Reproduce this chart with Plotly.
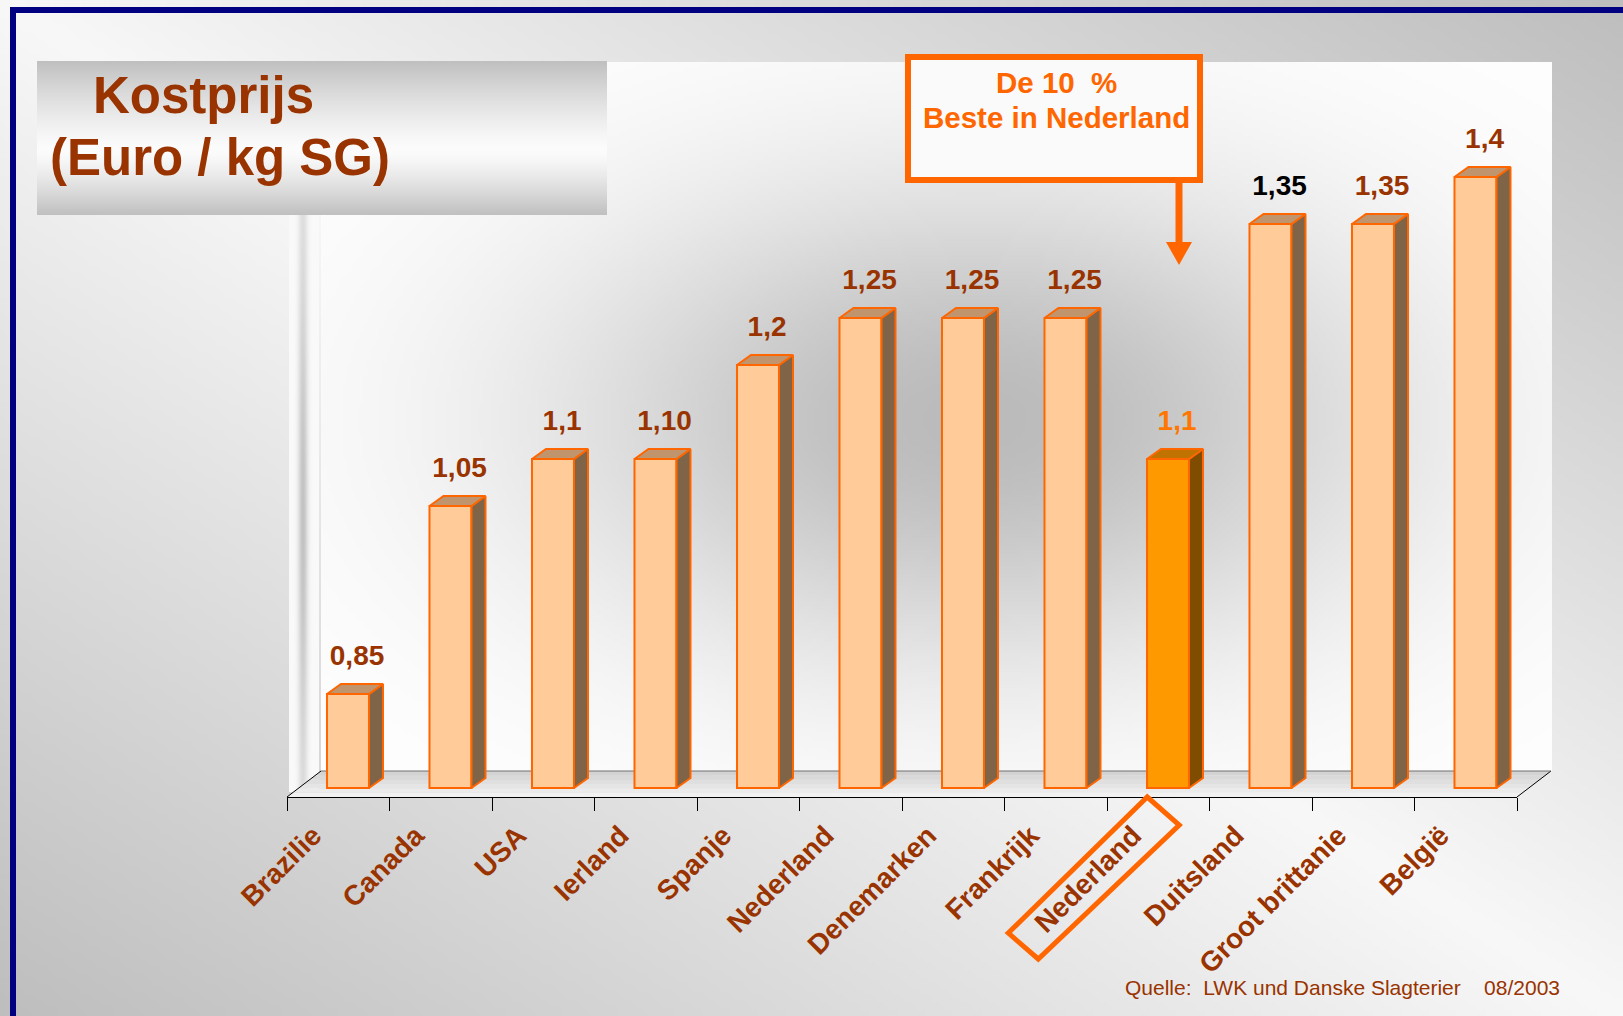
import base64, struct, zlib
import numpy as np
import plotly.graph_objects as go

# ---------------- data ----------------
categories = ["Brazilie", "Canada", "USA", "Ierland", "Spanje", "Nederland",
              "Denemarken", "Frankrijk", "Nederland", "Duitsland",
              "Groot brittanie", "België"]
values = [0.85, 1.05, 1.1, 1.1, 1.2, 1.25, 1.25, 1.25, 1.1, 1.35, 1.35, 1.4]
value_labels = ["0,85", "1,05", "1,1", "1,10", "1,2", "1,25", "1,25", "1,25",
                "1,1", "1,35", "1,35", "1,4"]
highlight_index = 8
y_base = 0.75

# ---------------- geometry (pixels) ----------------
W, H = 1623, 1016
PL, PR, PT, PB = 287, 1517, 62, 797           # plot area in pixels
PW, PH = PR - PL, PB - PT
n = len(categories)
px_per_cat = PW / n
px_per_unit = 940.0
y_min = y_base - 9 / px_per_unit
y_max = y_min + PH / px_per_unit


def fx(px):
    return (px - PL) / PW


def fy(py):
    return (PB - py) / PH


def png_uri(arr):
    arr = np.clip(arr, 0, 255).astype(np.uint8)
    h, w, _ = arr.shape
    raw = b"".join(b"\x00" + arr[r].tobytes() for r in range(h))

    def chunk(t, d):
        c = struct.pack(">I", len(d)) + t + d
        return c + struct.pack(">I", zlib.crc32(t + d) & 0xFFFFFFFF)

    png = (b"\x89PNG\r\n\x1a\n"
           + chunk(b"IHDR", struct.pack(">IIBBBBB", w, h, 8, 2, 0, 0, 0))
           + chunk(b"IDAT", zlib.compress(raw, 9))
           + chunk(b"IEND", b""))
    return "data:image/png;base64," + base64.b64encode(png).decode()


def gray(v):
    return np.repeat(v[:, :, None], 3, axis=2)


# page background: light top-left / bottom-right, darker other corners
bw, bh = 406, 254
u = np.linspace(0, 1, bw)[None, :]
w_ = np.linspace(0, 1, bh)[:, None]
bg = 248 - 58 * np.abs(u - w_)
bg_img = png_uri(gray(bg))

# back wall: white with grey radial shading
x0w, x1w, y0w, y1w = 321, 1552, 62, 771
ww, wh = 308, 178
xx = np.linspace(x0w, x1w, ww)[None, :]
yy = np.linspace(y0w, y1w, wh)[:, None]
wall = 255 - 68 * np.exp(-((xx - 975) / 420) ** 2 - ((yy - 420) / 240) ** 2)
wall_img = png_uri(gray(wall))

# left wall strip
sx0, sx1, sy0, sy1 = 289, 319, 215, 792
sw, sh = 30, 120
xs = np.linspace(sx0, sx1, sw)[None, :]
ys = np.linspace(sy0, sy1, sh)[:, None]
strip = 250 - 55 * np.exp(-((xs - 303) / 5) ** 2) * (0.45 + 0.55 * np.exp(-((ys - 520) / 200) ** 2))
strip_img = png_uri(gray(strip))

# title box vertical gradient
tb = np.linspace(0, 1, 154)[:, None] * np.ones((1, 4))
title_grad = 252 - 60 * np.where(tb < 0.58, ((0.58 - tb) / 0.58) ** 1.3, ((tb - 0.58) / 0.42) ** 1.3)
title_img = png_uri(gray(title_grad))

# ---------------- bars ----------------
bar_w = 42 / px_per_cat
bar_off = 0.595
ddx = 14 / px_per_cat
ddy = 10 / px_per_unit
xc = [i + bar_off for i in range(n)]

front_cols = ["#FFCC99"] * n
side_cols = ["#806448"] * n
top_cols = ["#C0946C"] * n
front_cols[highlight_index] = "#FF9900"
side_cols[highlight_index] = "#804C00"
top_cols[highlight_index] = "#C07300"

label_cols = ["#993300"] * n
label_cols[highlight_index] = "#FF7700"
label_cols[9] = "#000000"

fig = go.Figure()
fig.add_trace(go.Bar(
    x=xc, y=[v - y_base for v in values], base=[y_base] * n, width=bar_w,
    marker=dict(color=front_cols, line=dict(color="#FF6600", width=2)),
    hoverinfo="skip", showlegend=False,
))
for i, v in enumerate(values):
    xl = xc[i] - bar_w / 2
    xr = xc[i] + bar_w / 2
    fig.add_trace(go.Scatter(
        x=[xr, xr + ddx, xr + ddx, xr, xr],
        y=[y_base, y_base + ddy, v + ddy, v, y_base],
        fill="toself", fillcolor=side_cols[i], mode="lines",
        line=dict(color="#FF6600", width=2), hoverinfo="skip", showlegend=False))
    fig.add_trace(go.Scatter(
        x=[xl, xl + ddx, xr + ddx, xr, xl],
        y=[v, v + ddy, v + ddy, v, v],
        fill="toself", fillcolor=top_cols[i], mode="lines",
        line=dict(color="#FF6600", width=2), hoverinfo="skip", showlegend=False))

fig.add_trace(go.Scatter(
    x=[c + ddx / 2 + 0.02 for c in xc], y=[v + 36 / px_per_unit for v in values],
    mode="text", text=value_labels, textposition="middle center",
    textfont=dict(family="Liberation Sans, Arial", size=28, color=label_cols, weight="bold"),
    hoverinfo="skip", showlegend=False))

# ---------------- decorations ----------------
shapes = []
# floor (gradient strips)
fl_front, fl_back = 797, 771
depth_dx = 34
nstrip = 6
for k in range(nstrip):
    t0, t1 = k / nstrip, (k + 1) / nstrip
    ya, yb = fl_front - (fl_front - fl_back) * t0, fl_front - (fl_front - fl_back) * t1
    xa0, xb0 = PL + depth_dx * t0, PL + depth_dx * t1
    xa1, xb1 = PR + depth_dx * t0, PR + depth_dx * t1
    c = int(244 - 36 * (t0 + t1) / 2)
    path = (f"M {fx(xa0)},{fy(ya)} L {fx(xa1)},{fy(ya)} L {fx(xb1)},{fy(yb)} "
            f"L {fx(xb0)},{fy(yb)} Z")
    shapes.append(dict(type="path", path=path, xref="paper", yref="paper",
                       fillcolor=f"rgb({c},{c},{c})", line=dict(width=0), layer="below"))
# floor edges
shapes.append(dict(type="line", xref="paper", yref="paper", x0=fx(PL), y0=fy(fl_front),
                   x1=fx(PL + depth_dx), y1=fy(fl_back), line=dict(color="black", width=1), layer="below"))
shapes.append(dict(type="line", xref="paper", yref="paper", x0=fx(PR), y0=fy(fl_front),
                   x1=fx(PR + depth_dx), y1=fy(fl_back), line=dict(color="black", width=1), layer="below"))
shapes.append(dict(type="line", xref="paper", yref="paper", x0=fx(PL + depth_dx), y0=fy(fl_back),
                   x1=fx(PR + depth_dx), y1=fy(fl_back), line=dict(color="#707070", width=1), layer="below"))

# navy frame
shapes.append(dict(type="line", xref="paper", yref="paper", x0=fx(13), y0=fy(10), x1=fx(13), y1=fy(W + 50),
                   line=dict(color="#000080", width=6), layer="above"))
shapes.append(dict(type="line", xref="paper", yref="paper", x0=fx(10), y0=fy(10), x1=fx(W + 10), y1=fy(10),
                   line=dict(color="#000080", width=6), layer="above"))

# callout box and arrow
shapes.append(dict(type="rect", xref="paper", yref="paper", x0=fx(908), y0=fy(57), x1=fx(1200), y1=fy(180),
                   fillcolor="#FAFAFA", line=dict(color="#FF6600", width=6), layer="above"))
shapes.append(dict(type="line", xref="paper", yref="paper", x0=fx(1179), y0=fy(181), x1=fx(1179), y1=fy(246),
                   line=dict(color="#FF6600", width=7), layer="above"))
shapes.append(dict(type="path", xref="paper", yref="paper",
                   path=f"M {fx(1166)},{fy(242)} L {fx(1192)},{fy(242)} L {fx(1179)},{fy(265)} Z",
                   fillcolor="#FF6600", line=dict(width=0), layer="above"))

# box around highlighted category label (rotated rectangle)
cx_lab = PL + px_per_cat * (highlight_index + 0.5)
box_pts = [(1008, 933), (1147, 797), (1179, 825), (1038, 959)]
box_pts = [(x - 1158 + cx_lab, y) for x, y in box_pts]
shapes.append(dict(type="path", xref="paper", yref="paper",
                   path="M " + " L ".join(f"{fx(x)},{fy(y)}" for x, y in box_pts) + " Z",
                   fillcolor="rgba(0,0,0,0)", line=dict(color="#FF6600", width=5), layer="above"))

images = [
    dict(source=bg_img, xref="paper", yref="paper", x=fx(0), y=fy(0), sizex=W / PW, sizey=H / PH,
         xanchor="left", yanchor="top", sizing="stretch", layer="below"),
    dict(source=wall_img, xref="paper", yref="paper", x=fx(x0w), y=fy(y0w),
         sizex=(x1w - x0w) / PW, sizey=(y1w - y0w) / PH,
         xanchor="left", yanchor="top", sizing="stretch", layer="below"),
    dict(source=strip_img, xref="paper", yref="paper", x=fx(sx0), y=fy(sy0),
         sizex=(sx1 - sx0) / PW, sizey=(sy1 - sy0) / PH,
         xanchor="left", yanchor="top", sizing="stretch", layer="below"),
    dict(source=title_img, xref="paper", yref="paper", x=fx(37), y=fy(61),
         sizex=(607 - 37) / PW, sizey=(215 - 61) / PH,
         xanchor="left", yanchor="top", sizing="stretch", layer="above"),
]

font_main = "Liberation Sans, Arial"
annotations = [
    dict(text="<b>Kostprijs</b>", xref="paper", yref="paper", x=fx(91), y=fy(96),
         xanchor="left", yanchor="middle", showarrow=False,
         font=dict(family=font_main, size=51, color="#993300")),
    dict(text="<b>(Euro / kg SG)</b>", xref="paper", yref="paper", x=fx(48), y=fy(157),
         xanchor="left", yanchor="middle", showarrow=False,
         font=dict(family=font_main, size=51, color="#993300")),
    dict(text="<b>De 10\u00a0\u00a0%</b>", xref="paper", yref="paper",
         x=fx(1056), y=fy(82), xanchor="center", yanchor="middle", showarrow=False,
         font=dict(family=font_main, size=29.5, color="#FF6600")),
    dict(text="<b>Beste in Nederland</b>", xref="paper", yref="paper",
         x=fx(1056), y=fy(118), xanchor="center", yanchor="middle", showarrow=False,
         font=dict(family=font_main, size=29.5, color="#FF6600")),
    dict(text="Quelle:\u00a0\u00a0LWK und Danske Slagterier\u00a0\u00a0\u00a0\u00a008/2003",
         xref="paper", yref="paper", x=fx(1123), y=fy(987), xanchor="left", yanchor="middle",
         showarrow=False, font=dict(family=font_main, size=21, color="#993300")),
]

fig.update_layout(
    width=W, height=H, autosize=False,
    margin=dict(l=PL, r=W - PR, t=PT, b=H - PB, pad=0),
    paper_bgcolor="white", plot_bgcolor="rgba(0,0,0,0)",
    shapes=shapes, images=images, annotations=annotations,
    xaxis=dict(range=[0, n], tickvals=[i + 0.5 for i in range(n)], ticktext=categories,
               tickangle=-45, ticks="", showgrid=False, zeroline=False,
               showline=True, linecolor="black", linewidth=1,
               ticklabelshift=-25, ticklabelstandoff=10,
               tickfont=dict(family=font_main, size=28, color="#993300", weight="bold"),
               minor=dict(ticks="outside", tick0=0, dtick=1, ticklen=13, tickcolor="black",
                          tickwidth=1, showgrid=False),
               fixedrange=True),
    yaxis=dict(range=[y_min, y_max], visible=False, fixedrange=True),
    bargap=0,
)

fig.write_html("out.html", config={"displayModeBar": False, "staticPlot": True},
               post_script="document.body.style.margin='0px';")
